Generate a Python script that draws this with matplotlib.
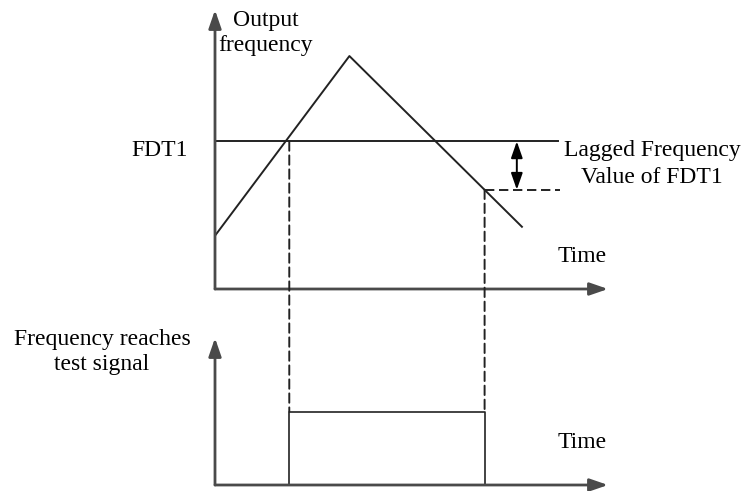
import matplotlib.pyplot as plt
from matplotlib.patches import ConnectionPatch

plt.rcParams['font.family'] = ['Liberation Serif', 'DejaVu Serif']
plt.rcParams['font.size'] = 17

# output frequency curve (time, frequency), arbitrary units 0..100
ramp_t = [0, 34.2, 78.1]
ramp_f = [19.1, 83.5, 22.3]
fdt1_level = 52.9
fdt1_end = 87.2
lag_level = 35.6
lag_end = 87.8
t_on = 18.9
t_off = 68.6
arrow_t = 76.8

# detection signal
pulse_t = [t_on, t_on, t_off, t_off]
pulse_v = [0, 0.5, 0.5, 0]

W, H = 743, 491
fig = plt.figure(figsize=(W / 100, H / 100), dpi=100)

# axes placed in pixel terms
x0, x1 = 215, 608
ax_top = fig.add_axes([x0 / W, 1 - 289 / H, (x1 - x0) / W, (289 - 10) / H])
ax_bot = fig.add_axes([x0 / W, 1 - 485 / H, (x1 - x0) / W, (485 - 338) / H])
ax_top.set_xlim(0, 100)
ax_top.set_ylim(0, 100)
ax_bot.set_xlim(0, 100)
ax_bot.set_ylim(0, 1)

axis_col = '#4a4a4a'
head = '-|>,head_length=1.1,head_width=0.38'
for ax, ytop in [(ax_top, 100), (ax_bot, 1)]:
    ax.axis('off')
    ax.annotate('', xy=(100, 0), xytext=(0, 0),
                arrowprops=dict(arrowstyle=head, mutation_scale=10,
                                color=axis_col, lw=2.0, shrinkA=0, shrinkB=0))
    ax.annotate('', xy=(0, ytop), xytext=(0, 0),
                arrowprops=dict(arrowstyle=head, mutation_scale=10,
                                color=axis_col, lw=2.0, shrinkA=0, shrinkB=0))

line_col = '#222222'
dash = (0, (4.8, 2.4))
ax_top.plot(ramp_t, ramp_f, color=line_col, lw=1.4)
ax_top.plot([0, fdt1_end], [fdt1_level, fdt1_level], color=line_col, lw=1.4)
ax_top.plot([t_off, lag_end], [lag_level, lag_level], color=line_col, lw=1.4,
            linestyle=dash)
ax_top.annotate('', xy=(arrow_t, lag_level), xytext=(arrow_t, fdt1_level),
                arrowprops=dict(arrowstyle='<|-|>,head_length=1.0,head_width=0.35',
                                mutation_scale=10, color='black', lw=1.4,
                                shrinkA=0, shrinkB=0))

ax_bot.plot(pulse_t, pulse_v, color=line_col, lw=1.2)

# dashed links between the two plots
for t, lvl in [(t_on, fdt1_level), (t_off, lag_level)]:
    con = ConnectionPatch(xyA=(t, lvl), coordsA=ax_top.transData,
                          xyB=(t, 0.5), coordsB=ax_bot.transData,
                          color=line_col, lw=1.4, linestyle=dash)
    fig.add_artist(con)

def px(x, y):
    return x / W, 1 - y / H

fig.text(*px(266, 33), 'Output\nfrequency', ha='center', va='center', linespacing=1.2)
fig.text(*px(188, 151), 'FDT1', ha='right', va='center')
fig.text(*px(652, 164), 'Lagged Frequency\nValue of FDT1', ha='center', va='center',
         linespacing=1.35)
fig.text(*px(582, 257), 'Time', ha='center', va='center')
fig.text(*px(102, 352), 'Frequency reaches\ntest signal', ha='center', va='center',
         linespacing=1.3)
fig.text(*px(582, 443), 'Time', ha='center', va='center')

fig.savefig('out.png', dpi=100)
